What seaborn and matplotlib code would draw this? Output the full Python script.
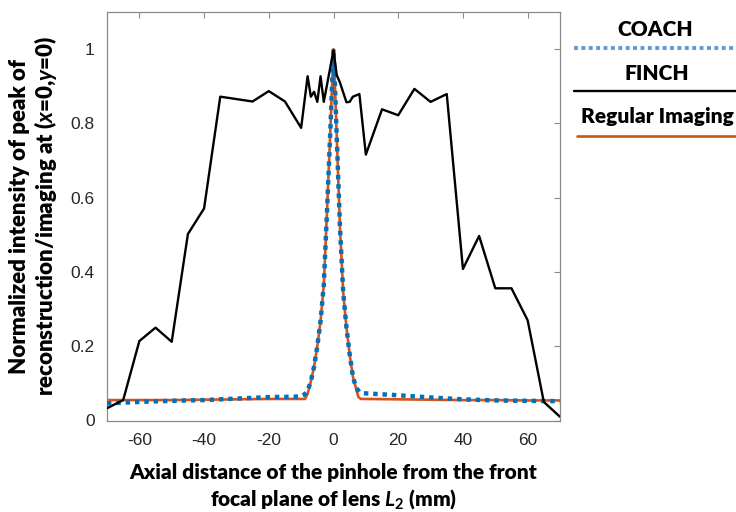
import matplotlib
matplotlib.use("Agg")
import matplotlib.pyplot as plt
from matplotlib.lines import Line2D
import seaborn as sns

# ---- data ----
finch_x = [-70, -65, -60, -55, -50, -45, -40, -35, -25, -20, -15, -10, -8, -7, -6, -5, -4, -3,
           0, 1, 2, 4, 5, 6, 8, 10, 15, 20, 25, 30, 35, 40, 45, 50, 55, 60, 65, 70]
finch_y = [0.033, 0.055, 0.214, 0.250, 0.212, 0.502, 0.571, 0.872, 0.859, 0.887, 0.859, 0.788,
           0.927, 0.872, 0.885, 0.858, 0.927, 0.858, 0.997, 0.930, 0.910, 0.857, 0.858, 0.872,
           0.879, 0.716, 0.838, 0.822, 0.893, 0.858, 0.879, 0.408, 0.497, 0.356, 0.356, 0.270,
           0.050, 0.010]

coach_x = [-70, -60, -50, -40, -30, -20, -12, -10, -9, -8, -7, -6, -5, -4, -3, -2, -1, -0.5,
           0, 0.5, 1, 2, 3, 4, 5, 6, 7, 8, 9, 10, 20, 30, 40, 50, 60, 70]
coach_y = [0.046, 0.050, 0.053, 0.055, 0.059, 0.063, 0.064, 0.066, 0.070, 0.080, 0.105, 0.145,
           0.200, 0.268, 0.365, 0.565, 0.775, 0.890, 1.000, 0.890, 0.765, 0.520, 0.345, 0.250,
           0.178, 0.118, 0.088, 0.077, 0.074, 0.073, 0.068, 0.062, 0.057, 0.054, 0.053, 0.052]

regular_x = [-70, -60, -50, -40, -30, -20, -10, -8.8, -8, -7, -6, -5, -4, -3, -2, -1, -0.5,
             0, 0.5, 1, 2, 3, 4, 5, 6, 7, 7.7, 8.5, 10, 20, 30, 40, 50, 60, 70]
regular_y = [0.055, 0.055, 0.055, 0.056, 0.057, 0.058, 0.058, 0.058, 0.072, 0.105, 0.145, 0.200,
             0.268, 0.365, 0.565, 0.775, 0.890, 1.000, 0.890, 0.765, 0.520, 0.345, 0.250, 0.178,
             0.118, 0.085, 0.063, 0.058, 0.058, 0.057, 0.056, 0.055, 0.055, 0.054, 0.054]

series_names = ["COACH", "FINCH", "Regular Imaging"]
x_ticks = [-60, -40, -20, 0, 20, 40, 60]
y_ticks = [0, 0.2, 0.4, 0.6, 0.8, 1]
y_ticklabels = ["0", "0.2", "0.4", "0.6", "0.8", "1"]

# ---- style ----
sns.set_theme(style="white")
plt.rcParams["font.family"] = ["Liberation Sans", "DejaVu Sans"]
plt.rcParams["mathtext.fontset"] = "custom"
plt.rcParams["mathtext.rm"] = "Lato:bold"
plt.rcParams["mathtext.it"] = "Lato:italic:bold"
plt.rcParams["mathtext.bf"] = "Lato:bold"

W, H = 736, 512
fig = plt.figure(figsize=(W / 100, H / 100), dpi=100)
ax = fig.add_axes([107 / W, 1 - 420.5 / H, 453 / W, 408.5 / H])

blue = "#0072BD"
orange = "#D95319"

sns.lineplot(x=regular_x, y=regular_y, ax=ax, color=orange, linewidth=1.9, zorder=2)
sns.lineplot(x=coach_x, y=coach_y, ax=ax, color=blue, linewidth=3.2,
             linestyle=(0, (1, 1.1)), zorder=3)
sns.lineplot(x=finch_x, y=finch_y, ax=ax, color="black", linewidth=1.7, zorder=4)

ax.set_xlim(-70, 70)
ax.set_ylim(0, 1.1)
ax.set_xticks(x_ticks)
ax.set_xticklabels([str(v) for v in x_ticks])
ax.set_yticks(y_ticks)
ax.set_yticklabels(y_ticklabels)

for s in ax.spines.values():
    s.set_color("#8a8a8a")
    s.set_linewidth(0.9)
    s.set_visible(True)
ax.tick_params(direction="in", length=4.5, width=0.8, color="#8a8a8a",
               top=True, right=True, labelsize=12.5, labelcolor="#262626", pad=9)
ax.tick_params(axis="y", pad=9)

ax.set_xlabel("Axial distance of the pinhole from the front\n"
              r"focal plane of lens $\mathit{L}_{2}$ (mm)", labelpad=11,
              linespacing=1.25, family=["Lato", "DejaVu Sans"], fontweight="heavy",
              fontsize=15, color="black")
ax.set_ylabel("Normalized intensity of peak of\n"
              r"reconstruction/imaging at ($\mathit{x}$=0,$\mathit{y}$=0)", labelpad=8,
              linespacing=1.1, family=["Lato", "DejaVu Sans"], fontweight="heavy",
              fontsize=16, color="black")

# ---- legend (text above line, at right) ----
leg_font = dict(family=["Lato", "DejaVu Sans"], fontweight="heavy", fontsize=15,
                ha="center", va="center", color="black")
fig.text(655 / W, 1 - 30 / H, series_names[0], **leg_font)
fig.add_artist(Line2D([574 / W, 1.0], [1 - 48 / H] * 2, transform=fig.transFigure,
                      color="#5B9BD5", linewidth=2.8, linestyle=(0, (1, 0.9))))
fig.text(657 / W, 1 - 74 / H, series_names[1], **leg_font)
fig.add_artist(Line2D([574 / W, 1.0], [1 - 91 / H] * 2, transform=fig.transFigure,
                      color="black", linewidth=1.7))
fig.text(657 / W, 1 - 117 / H, series_names[2], **leg_font)
fig.add_artist(Line2D([577 / W, 1.0], [1 - 136 / H] * 2, transform=fig.transFigure,
                      color="#C55A11", linewidth=1.9))

fig.savefig("out.png", dpi=100)
